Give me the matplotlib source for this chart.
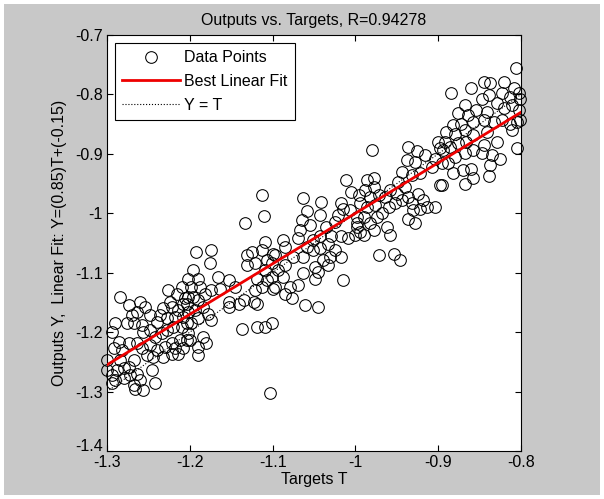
import numpy as np
import matplotlib
matplotlib.use('Agg')
from matplotlib import pyplot as plt
from matplotlib.patches import Rectangle
from matplotlib.transforms import ScaledTranslation

plt.rcParams['font.family'] = ['Liberation Sans', 'DejaVu Sans']

# targets (T) and network outputs (Y)
targets = [
    -1.284, -1.274, -1.260, -1.264, -1.254, -1.248, -1.270, -1.276, -1.290, -1.268,
    -1.258, -1.248, -1.256, -1.240, -1.236, -1.232, -1.224, -1.226, -1.216, -1.210,
    -1.206, -1.222, -1.214, -1.208, -1.228, -1.218, -1.208, -1.202, -1.242, -1.234,
    -1.228, -1.220, -1.210, -1.204, -1.294, -1.286, -1.282, -1.292, -1.274, -1.264,
    -1.258, -1.248, -1.240, -1.252, -1.244, -1.230, -1.222, -1.212, -1.208, -1.214,
    -1.218, -1.204, -1.222, -1.232, -1.300, -1.300, -1.294, -1.288, -1.280, -1.274,
    -1.284, -1.268, -1.290, -1.280, -1.272, -1.264, -1.260, -1.268, -1.246, -1.242,
    -1.256, -1.266, -1.294,
    -1.133, -1.110, -1.109, -1.099, -1.192, -1.174, -1.176, -1.131, -1.125, -1.113,
    -1.131, -1.121, -1.107, -1.196, -1.190, -1.202, -1.198, -1.188, -1.166, -1.153,
    -1.164, -1.145, -1.174, -1.182, -1.196, -1.202, -1.204, -1.190, -1.194, -1.184,
    -1.178, -1.174, -1.190, -1.198, -1.202, -1.200, -1.190, -1.184, -1.180, -1.190,
    -1.153, -1.153, -1.141, -1.135, -1.123, -1.119, -1.121, -1.113, -1.119, -1.107,
    -1.101, -1.109, -1.099, -1.137, -1.119, -1.109, -1.101, -1.103, -1.113,
    -1.011, -1.005, -1.063, -1.041, -1.017, -1.059, -1.043, -1.065, -1.055, -1.067,
    -1.021, -1.015, -1.007, -1.025, -0.998, -1.035, -1.043, -1.051, -1.059, -1.069,
    -1.087, -1.085, -1.097, -1.101, -1.093, -1.085, -1.075, -1.063, -1.051, -1.043,
    -1.033, -1.029, -1.025, -1.017, -1.031, -1.039, -1.049, -1.045, -1.033, -1.017,
    -1.009, -1.000, -0.998, -1.087, -1.097, -1.085, -1.077, -1.069, -1.079, -1.063,
    -1.049, -1.061, -1.045, -1.015,
    -0.980, -0.936, -0.926, -0.938, -0.928, -0.916, -0.904, -0.898, -0.900, -0.944,
    -0.932, -0.922, -0.908, -0.896, -0.986, -0.978, -0.988, -0.978, -0.972, -0.982,
    -0.996, -0.994, -0.986, -0.976, -0.964, -0.958, -0.948, -0.940, -0.950, -0.936,
    -0.924, -0.918, -0.914, -0.904, -0.922, -0.932, -0.944, -0.952, -0.960, -0.898,
    -0.990, -0.998, -0.994, -0.982, -0.974, -0.968, -0.978, -0.990, -0.962, -0.958,
    -0.936, -0.928, -0.930, -0.972, -0.954, -0.946,
    -0.806, -0.885, -0.860, -0.845, -0.837, -0.821, -0.809, -0.803, -0.847, -0.839,
    -0.823, -0.813, -0.801, -0.868, -0.876, -0.864, -0.854, -0.841, -0.829, -0.821,
    -0.811, -0.803, -0.858, -0.872, -0.882, -0.890, -0.892, -0.880, -0.868, -0.845,
    -0.833, -0.823, -0.813, -0.805, -0.894, -0.886, -0.876, -0.866, -0.858, -0.841,
    -0.829, -0.845, -0.847, -0.835, -0.825, -0.837, -0.858, -0.868, -0.880, -0.888,
    -0.882, -0.870, -0.860, -0.868, -0.858, -0.839, -0.896, -0.805, -0.811, -0.801,
]
outputs = [
    -1.141, -1.155, -1.149, -1.166, -1.157, -1.171, -1.171, -1.185, -1.185, -1.185,
    -1.188, -1.197, -1.199, -1.183, -1.171, -1.160, -1.149, -1.129, -1.135, -1.124,
    -1.143, -1.157, -1.163, -1.152, -1.177, -1.174, -1.174, -1.166, -1.208, -1.202,
    -1.197, -1.191, -1.191, -1.185, -1.199, -1.216, -1.230, -1.227, -1.219, -1.219,
    -1.227, -1.222, -1.230, -1.239, -1.241, -1.225, -1.219, -1.213, -1.227, -1.236,
    -1.227, -1.213, -1.236, -1.241, -1.247, -1.264, -1.272, -1.264, -1.261, -1.258,
    -1.247, -1.247, -1.281, -1.278, -1.272, -1.270, -1.281, -1.289, -1.264, -1.286,
    -1.298, -1.295, -1.286,
    -1.016, -1.005, -1.048, -1.068, -1.066, -1.062, -1.084, -1.070, -1.065, -1.062,
    -1.087, -1.084, -1.079, -1.096, -1.110, -1.110, -1.124, -1.124, -1.107, -1.112,
    -1.127, -1.124, -1.129, -1.135, -1.141, -1.141, -1.152, -1.146, -1.163, -1.157,
    -1.169, -1.180, -1.177, -1.185, -1.202, -1.213, -1.225, -1.208, -1.219, -1.239,
    -1.149, -1.157, -1.152, -1.146, -1.149, -1.152, -1.129, -1.124, -1.110, -1.112,
    -1.107, -1.096, -1.127, -1.194, -1.191, -1.191, -1.185, -1.302, -0.969,
    -0.944, -0.964, -0.975, -0.981, -0.983, -0.997, -1.003, -1.011, -1.020, -1.028,
    -1.003, -0.992, -0.995, -1.014, -1.006, -1.023, -1.039, -1.045, -1.056, -1.042,
    -1.045, -1.056, -1.070, -1.084, -1.096, -1.087, -1.073, -1.073, -1.062, -1.059,
    -1.051, -1.039, -1.062, -1.073, -1.073, -1.079, -1.090, -1.098, -1.087, -1.039,
    -1.042, -1.037, -1.023, -1.107, -1.124, -1.135, -1.143, -1.121, -1.124, -1.101,
    -1.110, -1.155, -1.157, -1.112,
    -0.894, -0.888, -0.896, -0.910, -0.913, -0.902, -0.908, -0.891, -0.880, -0.930,
    -0.936, -0.933, -0.922, -0.916, -0.944, -0.941, -0.961, -0.955, -0.969, -0.972,
    -0.969, -0.983, -0.989, -0.986, -0.972, -0.961, -0.947, -0.955, -0.967, -0.972,
    -0.967, -0.978, -0.989, -0.989, -0.992, -0.983, -0.978, -0.983, -0.989, -0.953,
    -1.006, -1.017, -1.031, -1.017, -1.006, -1.000, -1.028, -1.037, -1.023, -1.037,
    -1.009, -1.017, -0.995, -1.070, -1.068, -1.079,
    -0.756, -0.797, -0.790, -0.779, -0.781, -0.779, -0.790, -0.798, -0.807, -0.801,
    -0.798, -0.804, -0.807, -0.818, -0.832, -0.835, -0.826, -0.829, -0.815, -0.823,
    -0.818, -0.826, -0.846, -0.849, -0.852, -0.863, -0.880, -0.866, -0.860, -0.843,
    -0.846, -0.843, -0.849, -0.846, -0.894, -0.888, -0.882, -0.880, -0.868, -0.863,
    -0.880, -0.885, -0.899, -0.902, -0.908, -0.919, -0.894, -0.899, -0.905, -0.916,
    -0.933, -0.927, -0.925, -0.950, -0.941, -0.937, -0.953, -0.891, -0.860, -0.843,
]

fit_slope = 0.85
fit_offset = -0.15
r_value = 0.94278

x_ticks = [-1.3, -1.2, -1.1, -1.0, -0.9, -0.8]
x_tick_labels = ['-1.3', '-1.2', '-1.1', '-1', '-0.9', '-0.8']
y_ticks = [-1.4, -1.3, -1.2, -1.1, -1.0, -0.9, -0.8, -0.7]
y_tick_labels = ['-1.4', '-1.3', '-1.2', '-1.1', '-1', '-0.9', '-0.8', '-0.7']

fig = plt.figure(figsize=(6.04, 4.99), dpi=100, facecolor='white')
# grey matlab figure background with a thin white border
bg = Rectangle((0.007, 0.008), 0.986, 0.984, transform=fig.transFigure,
               facecolor='#c8c8c8', edgecolor='none', zorder=-10)
fig.add_artist(bg)

ax = fig.add_axes([0.1772, 0.0962, 0.6854, 0.8337])
ax.set_facecolor('white')

T = np.array(targets)
Y = np.array(outputs)
line_t = np.array([x_ticks[0], x_ticks[-1]])

h_pts, = ax.plot(T, Y, 'o', mfc='none', mec='black', ms=8.4, mew=0.75, clip_on=False,
                 label='Data Points', zorder=2)
h_fit, = ax.plot(line_t, fit_slope * line_t + fit_offset, color='#ee0000', lw=2,
                 label='Best Linear Fit', zorder=3)
h_yt, = ax.plot(line_t, line_t, ':', color='black', lw=0.8, label='Y = T', zorder=1)

ax.set_xlim(-1.3, -0.8)
ax.set_ylim(-1.4, -0.7)
ax.set_xticks(x_ticks)
ax.set_xticklabels(x_tick_labels)
ax.set_yticks(y_ticks)
ax.set_yticklabels(y_tick_labels)
ax.tick_params(direction='in', top=True, right=True, length=4, width=0.8,
               labelsize=11.5, pad=3)
for s in ax.spines.values():
    s.set_linewidth(0.8)

# nudge the bottom y label up a bit so it clears the first x label
lab = ax.get_yticklabels()[0]
lab.set_transform(lab.get_transform() + ScaledTranslation(0, 4 / 72, fig.dpi_scale_trans))

ax.set_title('Outputs vs. Targets, R=%.5f' % r_value, fontsize=11.5, pad=7)
ax.set_xlabel('Targets T', fontsize=11.5, labelpad=1)
ax.set_ylabel('Outputs Y,  Linear Fit: Y=(%.2g)T+(%.2g)' % (fit_slope, fit_offset),
              fontsize=11.5, labelpad=6)

leg = ax.legend(handles=[h_pts, h_fit, h_yt], loc='upper left', fontsize=11.5,
                fancybox=False, framealpha=1, edgecolor='black', handlelength=3.6,
                borderaxespad=0.5, labelspacing=0.55, handletextpad=0.3,
                borderpad=0.45)
leg.get_frame().set_linewidth(0.8)

fig.savefig('out.png', dpi=100, facecolor=fig.get_facecolor())
